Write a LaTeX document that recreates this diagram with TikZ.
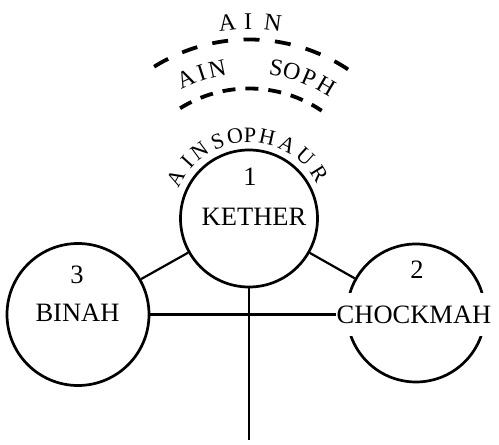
\documentclass[tikz,border=0pt]{standalone}
\usepackage{fontspec}
\setmainfont{Liberation Serif}
\begin{document}
\begin{tikzpicture}[x=1pt,y=1pt,
  sephira/.style={circle, draw, line width=2.7pt, minimum size=#1, inner sep=0pt},
  conn/.style={line width=2.2pt},
  lbl/.style={font=\fontsize{26.5}{30}\selectfont, inner sep=0pt},
  arclbl/.style={font=\fontsize{22}{25}\selectfont, inner sep=0pt},
  arclblb/.style={font=\fontsize{24}{27}\selectfont, inner sep=0pt},
  dasharc/.style={line width=3.8pt}
]
\useasboundingbox (0,0) rectangle (499,445);
\coordinate (kc) at (249,226.5);
\node[sephira=137pt] (kether) at (kc) {};
\node[sephira=142pt] (binah) at (78,130.5) {};
\node[sephira=138pt] (chockmah) at (416,132) {};

\draw[conn] (kether) -- (binah);
\draw[conn] (kether) -- (chockmah);

\node[lbl] (n1) at (250,268.5) {1};
\node[lbl] (ketherlbl) at (254,228) {KETHER};
\node[lbl] (n3) at (77,170) {3};
\node[lbl] (binahlbl) at (77.5,132) {BINAH};
\node[lbl] (n2) at (417,175) {2};
\node[lbl, fill=white, inner xsep=1pt, inner ysep=13pt] (chocklbl) at (414,130.5) {CHOCKMAH};

\draw[conn] (binah.east) -- (chocklbl.west);
\coordinate (bottom) at (249,5);
\draw[conn] (kether.south) -- (bottom);

% dashed arcs
\draw[dasharc, dash pattern=on 16pt off 15.5pt] ([shift={(122:179)}]kc) arc[start angle=122, end angle=56, radius=179];
\draw[dasharc, dash pattern=on 13pt off 10pt] ([shift={(122:130)}]kc) arc[start angle=122, end angle=56, radius=130];

% arc texts
\foreach \ch/\a [count=\i] in {A/150.7, I/137.7, N/126.4, S/112, O/99.7, P/89.3, H/77.4, A/62.7, U/47.7, R/32.1}
  \node[arclbl, rotate=\a-90] (asa\i) at ([shift={(\a:83.5)}]kc) {\ch};
\foreach \ch/\a [count=\i] in {A/114.4, I/108.1, N/102, S/79.7, O/73.7, P/67, H/59.7}
  \node[arclblb, rotate=\a-90] (as\i) at ([shift={(\a:153)}]kc) {\ch};
\foreach \ch/\a [count=\i] in {A/96.4, I/90.3, N/83}
  \node[arclblb, rotate=\a-90] (ain\i) at ([shift={(\a:197)}]kc) {\ch};
\end{tikzpicture}
\end{document}
